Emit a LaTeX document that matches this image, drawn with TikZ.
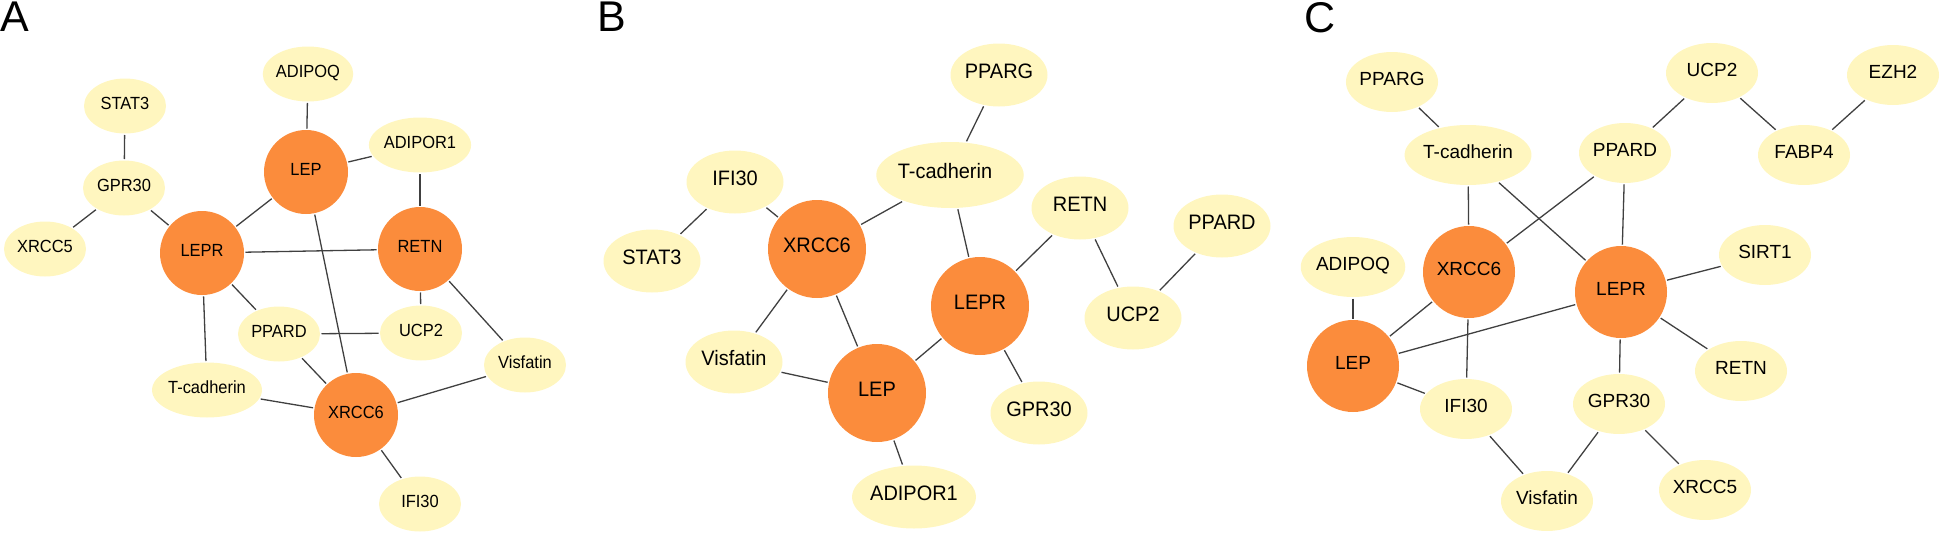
\documentclass[tikz,border=0pt]{standalone}
\usepackage{fontspec}
\setmainfont{Liberation Sans}
\newfontfamily\fontA[FakeStretch=0.935]{Liberation Sans}
\newfontfamily\fontB[FakeStretch=0.955]{Liberation Sans}
\usetikzlibrary{shapes.geometric}
\definecolor{hubc}{HTML}{FB8C3C}
\definecolor{leafc}{HTML}{FFF6BF}
\definecolor{edgec}{HTML}{404040}
\begin{document}
\begin{tikzpicture}[x=1pt,y=-1pt,
  edge/.style={draw=edgec,line width=1.3pt},
  nd/.style={inner sep=0pt,outer sep=1.5pt,text height=0.72em,text depth=0pt},
  leafA/.style={nd,ellipse,fill=leafc,minimum width=82pt,minimum height=55pt,font=\fontA\fontsize{17.6pt}{19pt}\selectfont},
  hubA/.style={nd,circle,fill=hubc,minimum size=84pt,font=\fontA\fontsize{17.6pt}{19pt}\selectfont},
  leafB/.style={nd,ellipse,fill=leafc,minimum width=97pt,minimum height=63pt,font=\fontB\fontsize{20.9pt}{22pt}\selectfont},
  hubB/.style={nd,circle,fill=hubc,minimum size=98pt,font=\fontB\fontsize{20.9pt}{22pt}\selectfont},
  leafC/.style={nd,ellipse,fill=leafc,minimum width=92pt,minimum height=60pt,font=\fontsize{19pt}{21pt}\selectfont},
  hubC/.style={nd,circle,fill=hubc,minimum size=92pt,font=\fontsize{19pt}{21pt}\selectfont},
  panel/.style={anchor=north west,inner sep=0pt,font=\fontsize{43pt}{43pt}\selectfont}]
\useasboundingbox (0,0) rectangle (1944,538);

% panel labels
\node[panel] (labA) at (0,2) {A};
\node[panel] (labB) at (597,2) {B};
\node[panel] (labC) at (1304,2) {C};

% ---------- Panel A ----------
\node[leafA] (aADIPOQ) at (308,74) {ADIPOQ};
\node[leafA] (aSTAT3) at (125,106) {STAT3};
\node[hubA] (aLEP) at (306,172) {LEP};
\node[leafA] (aADIPOR1) at (420,145) {ADIPOR1};
\node[leafA] (aGPR30) at (124,188) {GPR30};
\node[leafA] (aXRCC5) at (45,249) {XRCC5};
\node[hubA] (aLEPR) at (202,253) {LEPR};
\node[hubA] (aRETN) at (420,249) {RETN};
\node[leafA] (aPPARD) at (279,334) {PPARD};
\node[leafA] (aUCP2) at (421,333) {UCP2};
\node[leafA] (aVisfatin) at (525,365) {Visfatin};
\node[leafA] (aTcad) at (207,390) {T-cadherin};
\node[hubA] (aXRCC6) at (356,415) {XRCC6};
\node[leafA] (aIFI30) at (420,504) {IFI30};

\draw[edge] (aSTAT3) -- (aGPR30);
\draw[edge] (aGPR30) -- (aXRCC5);
\draw[edge] (aGPR30) -- (aLEPR);
\draw[edge] (aADIPOQ) -- (aLEP);
\draw[edge] (aLEP) -- (aADIPOR1);
\draw[edge] (aADIPOR1) -- (aRETN);
\draw[edge] (aLEP) -- (aLEPR);
\draw[edge] (aLEP) -- (aXRCC6);
\draw[edge] (aLEPR) -- (aRETN);
\draw[edge] (aLEPR) -- (aPPARD);
\draw[edge] (aLEPR) -- (aTcad);
\draw[edge] (aRETN) -- (aUCP2);
\draw[edge] (aRETN) -- (aVisfatin);
\draw[edge] (aPPARD) -- (aUCP2);
\draw[edge] (aPPARD) -- (aXRCC6);
\draw[edge] (aTcad) -- (aXRCC6);
\draw[edge] (aXRCC6) -- (aVisfatin);
\draw[edge] (aXRCC6) -- (aIFI30);

% ---------- Panel B ----------
\node[leafB] (bPPARG) at (999,75) {PPARG};
\node[leafB] (bIFI30) at (735,182) {IFI30};
\node[leafB,minimum width=108pt,minimum height=66pt] (bTcad) at (950,175) {T-cadherin\hspace*{10pt}};
\node[leafB] (bRETN) at (1080,208) {RETN};
\node[leafB] (bPPARD) at (1222,226) {PPARD};
\node[leafB] (bSTAT3) at (652,261) {STAT3};
\node[hubB] (bXRCC6) at (817,249) {XRCC6};
\node[hubB] (bLEPR) at (980,306) {LEPR};
\node[leafB] (bUCP2) at (1133,318) {UCP2};
\node[leafB] (bVisfatin) at (734,362) {Visfatin};
\node[hubB] (bLEP) at (877,393) {LEP};
\node[leafB] (bGPR30) at (1039,413) {GPR30};
\node[leafB] (bADIPOR1) at (914,497) {ADIPOR1};

\draw[edge] (bPPARG) -- (bTcad);
\draw[edge] (bIFI30) -- (bSTAT3);
\draw[edge] (bIFI30) -- (bXRCC6);
\draw[edge] (bXRCC6) -- (bTcad);
\draw[edge] (bTcad) -- (bLEPR);
\draw[edge] (bXRCC6) -- (bVisfatin);
\draw[edge] (bXRCC6) -- (bLEP);
\draw[edge] (bVisfatin) -- (bLEP);
\draw[edge] (bLEP) -- (bLEPR);
\draw[edge] (bLEP) -- (bADIPOR1);
\draw[edge] (bLEPR) -- (bRETN);
\draw[edge] (bLEPR) -- (bGPR30);
\draw[edge] (bRETN) -- (bUCP2);
\draw[edge] (bUCP2) -- (bPPARD);

% ---------- Panel C ----------
\node[leafC] (cPPARG) at (1392,82) {PPARG};
\node[leafC] (cUCP2) at (1712,73) {UCP2};
\node[leafC] (cEZH2) at (1893,75) {EZH2};
\node[leafC] (cTcad) at (1468,155) {T-cadherin};
\node[leafC] (cPPARD) at (1625,153) {PPARD};
\node[leafC] (cFABP4) at (1804,155) {FABP4};
\node[leafC] (cSIRT1) at (1765,255) {SIRT1};
\node[leafC] (cADIPOQ) at (1353,267) {ADIPOQ};
\node[hubC] (cXRCC6) at (1469,272) {XRCC6};
\node[hubC] (cLEPR) at (1621,292) {LEPR};
\node[hubC] (cLEP) at (1353,366) {LEP};
\node[leafC] (cRETN) at (1741,371) {RETN};
\node[leafC] (cIFI30) at (1466,409) {IFI30};
\node[leafC] (cGPR30) at (1619,404) {GPR30};
\node[leafC] (cVisfatin) at (1547,501) {Visfatin};
\node[leafC] (cXRCC5) at (1705,490) {XRCC5};

\draw[edge] (cPPARG) -- (cTcad);
\draw[edge] (cUCP2) -- (cPPARD);
\draw[edge] (cUCP2) -- (cFABP4);
\draw[edge] (cEZH2) -- (cFABP4);
\draw[edge] (cTcad) -- (cXRCC6);
\draw[edge] (cTcad) -- (cLEPR);
\draw[edge] (cPPARD) -- (cXRCC6);
\draw[edge] (cPPARD) -- (cLEPR);
\draw[edge] (cLEPR) -- (cSIRT1);
\draw[edge] (cLEPR) -- (cRETN);
\draw[edge] (cLEPR) -- (cLEP);
\draw[edge] (cLEPR) -- (cGPR30);
\draw[edge] (cADIPOQ) -- (cLEP);
\draw[edge] (cXRCC6) -- (cLEP);
\draw[edge] (cXRCC6) -- (cIFI30);
\draw[edge] (cLEP) -- (cIFI30);
\draw[edge] (cIFI30) -- (cVisfatin);
\draw[edge] (cGPR30) -- (cVisfatin);
\draw[edge] (cGPR30) -- (cXRCC5);
\end{tikzpicture}
\end{document}
